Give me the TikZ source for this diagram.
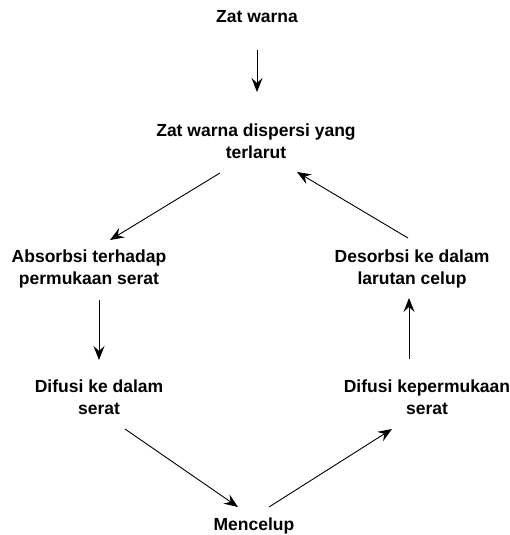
\documentclass[tikz,border=0pt]{standalone}
\usepackage{fontspec}
\setmainfont{Liberation Sans}
\usetikzlibrary{arrows.meta,calc}
\tikzset{
  lbl/.style={align=center,inner sep=0pt,font=\fontsize{17.5}{22}\selectfont\bfseries},
  arr/.style={draw=black,line width=0.9pt,-{Stealth[length=14pt,width=11pt,inset=5pt]}}
}
\begin{document}
\begin{tikzpicture}[x=1pt,y=-1pt]
\useasboundingbox (0,0) rectangle (509,535);
\node[lbl] (zw) at (257,17) {Zat warna};
\node[lbl] (mid) at (256,141) {Zat warna dispersi yang\\terlarut};
\node[lbl] (abs) at (89,269) {Absorbsi terhadap\\permukaan serat};
\node[lbl] (des) at (412,269) {Desorbsi ke dalam\\larutan celup};
\node[lbl] (dif1) at (99,397) {Difusi ke dalam\\serat};
\node[lbl] (dif2) at (427,397) {Difusi kepermukaan\\serat};
\node[lbl] (men) at (254,526) {Mencelup};
\draw[arr] ($(zw)+(0,33)$) -- ($(mid)+(1,-49)$);
\draw[arr] ($(mid)+(-36,32)$) -- ($(abs)+(21,-29)$);
\draw[arr] ($(des)+(-4,-31)$) -- ($(mid)+(41,31)$);
\draw[arr] ($(abs)+(10,31)$) -- ($(dif1)+(0,-37)$);
\draw[arr] ($(dif2)+(-18,-38)$) -- ($(des)+(-3,29)$);
\draw[arr] ($(dif1)+(26,32)$) -- ($(men)+(-16,-19)$);
\draw[arr] ($(men)+(15,-19)$) -- ($(dif2)+(-35,32)$);
\end{tikzpicture}
\end{document}
